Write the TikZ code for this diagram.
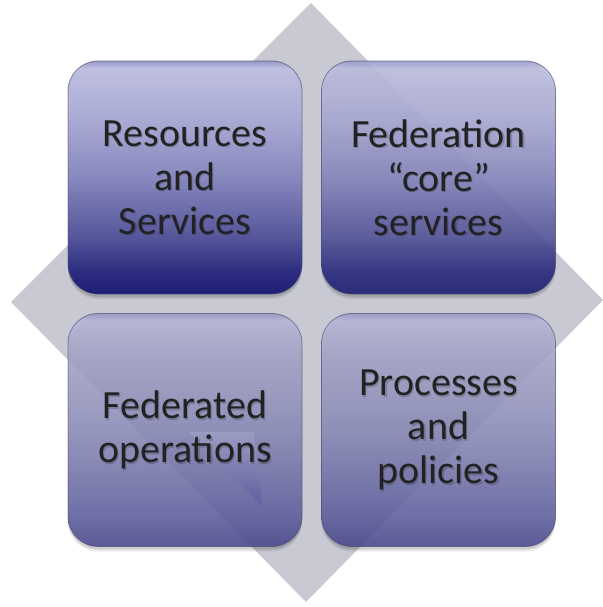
\documentclass[tikz,border=0pt]{standalone}
\usepackage{fontspec}
\setmainfont{Carlito}
\definecolor{diam}{RGB}{200,201,210}
\definecolor{txt}{RGB}{34,34,34}
\definecolor{tq0}{RGB}{30,31,116}
\definecolor{tq1}{RGB}{44,45,128}
\definecolor{tq2}{RGB}{86,87,155}
\definecolor{tq3}{RGB}{135,136,190}
\definecolor{tq4}{RGB}{170,171,212}
\definecolor{tq5}{RGB}{190,191,224}
\definecolor{tq6}{RGB}{150,151,200}
\definecolor{bq0}{RGB}{70,71,140}
\definecolor{bq1}{RGB}{95,96,160}
\definecolor{bq2}{RGB}{140,141,186}
\definecolor{bq3}{RGB}{164,165,202}
\definecolor{bq4}{RGB}{185,186,220}
\definecolor{bq5}{RGB}{145,146,192}
\definecolor{edgeb}{RGB}{70,70,110}
\pgfdeclareverticalshading{topq}{100bp}{color(0bp)=(tq0); color(25bp)=(tq0); color(30bp)=(tq1); color(37.5bp)=(tq2); color(50bp)=(tq3); color(62.5bp)=(tq4); color(73.5bp)=(tq5); color(75bp)=(tq6); color(100bp)=(tq6)}
\pgfdeclareverticalshading{botq}{100bp}{color(0bp)=(bq0); color(25bp)=(bq0); color(32bp)=(bq1); color(50bp)=(bq2); color(65bp)=(bq3); color(73.5bp)=(bq4); color(75bp)=(bq5); color(100bp)=(bq5)}
\tikzset{
  quad/.style={rounded corners=30pt, minimum width=234pt, minimum height=233pt, inner sep=0pt, draw=edgeb, draw opacity=0.6, line width=0.8pt},
  topquad/.style={quad, shading=topq},
  botquad/.style={quad, shading=botq, fill opacity=0.85},
  qshadow/.style={rounded corners=30pt, minimum width=234pt, minimum height=233pt, inner sep=0pt, fill=black, fill opacity=0.12},
  qtext/.style={align=center, text=txt, font=\fontsize{40}{44}\selectfont, inner sep=0pt},
  qtshadow/.style={qtext, text=black, text opacity=0.18}
}
\begin{document}
\begin{tikzpicture}[x=1pt,y=-1pt]
\useasboundingbox (0,0) rectangle (602,607);
% background diamond
\fill[diam] (311,3) -- (603,300) -- (306,602) -- (11,302) -- cycle;
% shadows
\foreach \cx/\cy in {185/177.5, 438.5/177.5, 185/430, 438.5/430}{
  \node[qshadow] at (\cx,\cy+3) {};
  \node[qshadow, fill opacity=0.08] at (\cx,\cy+5) {};
}
% boxes
\node[topquad] (rs) at (185,177.5) {};
\node[topquad, fill opacity=0.9] (fc) at (438.5,177.5) {};
\node[botquad] (fo) at (185,430) {};
\node[botquad] (pp) at (438.5,430) {};
% small artefact triangle
\shade[top color=bq3, bottom color=tq2, fill opacity=0.6] (189,432) -- (254,432) -- (262,506) -- cycle;
% text shadows
\node[qtshadow] at ([shift={(1.2,1.5)}]rs.center) {Resources\\and\\Services};
\node[qtshadow] at ([shift={(1.2,1.5)}]fc.center) {Federation\\“core”\\services};
\node[qtshadow] at ([shift={(1.2,1.5)}]fo.center) {Federated\\operations};
\node[qtshadow] at ([shift={(1.2,1.5)}]pp.center) {Processes\\and\\policies};
% texts
\node[qtext] (rst) at (rs.center) {Resources\\and\\Services};
\node[qtext] (fct) at (fc.center) {Federation\\“core”\\services};
\node[qtext] (fot) at (fo.center) {Federated\\operations};
\node[qtext] (ppt) at (pp.center) {Processes\\and\\policies};
\end{tikzpicture}
\end{document}
